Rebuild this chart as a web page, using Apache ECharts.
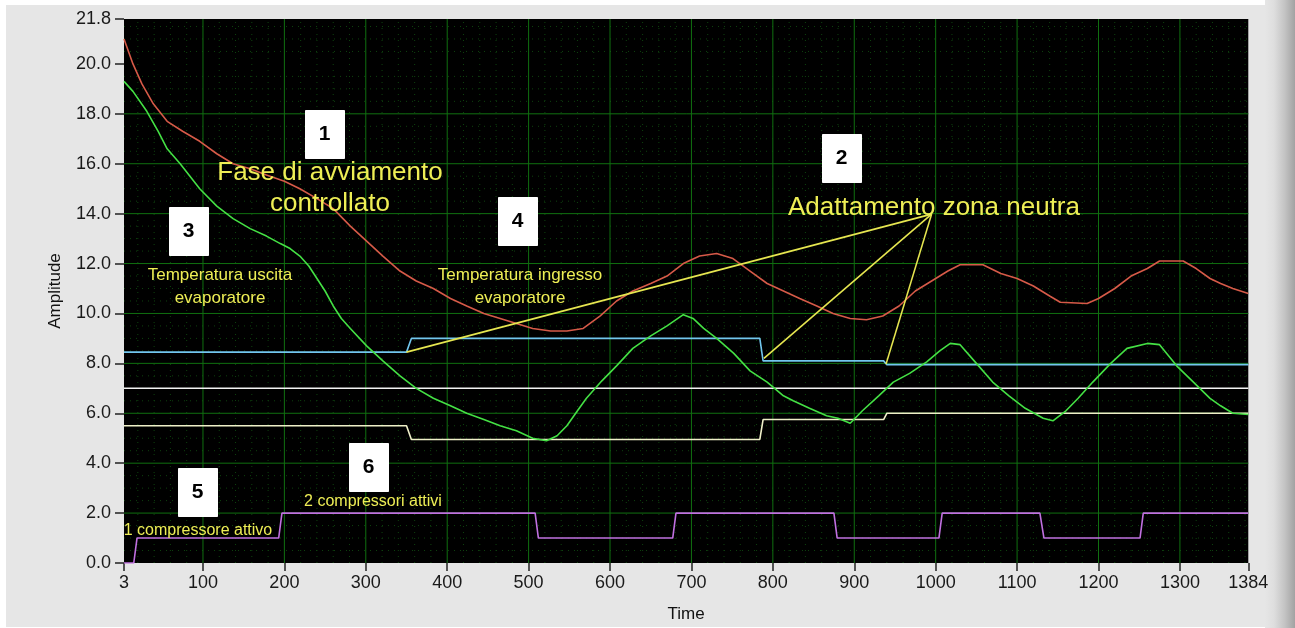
<!DOCTYPE html>
<html>
<head>
<meta charset="utf-8">
<script src="https://cdn.jsdelivr.net/npm/echarts@6/dist/echarts.min.js"></script>
<style>
  html, body { margin: 0; padding: 0; background: #ffffff; }
  #wrap { position: relative; width: 1295px; height: 628px; overflow: hidden; background: #ffffff; }
  #panel { position: absolute; left: 6px; top: 5px; width: 1262px; height: 622px; background: #e6e6e6; }
  #strip { position: absolute; left: 1265px; top: 0; width: 30px; height: 628px;
           background: linear-gradient(to right, #e6e6e6, #dedede 30%, #c4c4c4 65%, #a2a2a2); }
  #chart { position: absolute; left: 0; top: 0; width: 1295px; height: 628px; }
</style>
</head>
<body>
<div id="wrap">
  <div id="panel"></div>
  <div id="strip"></div>
  <div id="chart"></div>
</div>
<script>
// ---- tick labels ----
const timeTicks = [3, 100, 200, 300, 400, 500, 600, 700, 800, 900, 1000, 1100, 1200, 1300, 1384];
const ampTicks = [0, 2, 4, 6, 8, 10, 12, 14, 16, 18, 20, 21.8];

// ---- Temperatura ingresso evaporatore (red) ----
const inletTime = [3, 14, 25, 39, 56, 75, 96, 117, 137, 158, 178, 200, 219, 240, 260, 281, 301, 321, 342, 362,
  383, 404, 424, 445, 465, 485, 505, 527, 547, 567, 588, 608, 628, 650, 670, 690, 710, 731, 751, 772,
  793, 813, 833, 854, 874, 895, 915, 935, 955, 975, 995, 1015, 1030, 1058, 1080, 1100, 1120, 1140, 1153, 1186,
  1200, 1220, 1240, 1260, 1275, 1304, 1320, 1337, 1350, 1365, 1384];
const inletTemp = [21.0, 20.0, 19.2, 18.4, 17.7, 17.3, 16.9, 16.4, 16.0, 15.8, 15.55, 15.3, 15.0, 14.6, 14.2, 13.5, 12.9, 12.3, 11.7, 11.3,
  11.0, 10.6, 10.3, 10.0, 9.8, 9.6, 9.4, 9.3, 9.3, 9.4, 9.9, 10.5, 10.9, 11.2, 11.5, 12.0, 12.3, 12.4, 12.2, 11.7,
  11.2, 10.9, 10.6, 10.3, 10.0, 9.8, 9.75, 9.9, 10.3, 10.9, 11.3, 11.7, 11.95, 11.95, 11.6, 11.4, 11.1, 10.7, 10.45, 10.4,
  10.6, 11.0, 11.5, 11.8, 12.1, 12.1, 11.8, 11.4, 11.2, 11.0, 10.8];

// ---- Temperatura uscita evaporatore (green) ----
const outletTime = [3, 14, 31, 45, 56, 72, 96, 117, 137, 158, 178, 195, 207, 219, 230, 240, 250, 260, 270, 281,
  301, 321, 342, 362, 383, 404, 424, 445, 465, 485, 505, 522, 535, 547, 560, 571, 590, 608, 628, 650,
  670, 690, 702, 715, 731, 752, 772, 793, 813, 825, 845, 866, 880, 895, 910, 930, 948, 968, 989, 1005,
  1018, 1030, 1050, 1070, 1090, 1110, 1132, 1144, 1160, 1175, 1193, 1215, 1235, 1260, 1275, 1296, 1315, 1337, 1350, 1365, 1384];
const outletTemp = [19.3, 18.9, 18.1, 17.3, 16.6, 16.0, 15.0, 14.3, 13.8, 13.4, 13.1, 12.8, 12.6, 12.3, 11.9, 11.4, 10.9, 10.3, 9.8, 9.4,
  8.7, 8.1, 7.5, 7.0, 6.6, 6.3, 6.0, 5.75, 5.5, 5.3, 5.0, 4.9, 5.1, 5.5, 6.1, 6.6, 7.3, 7.9, 8.6, 9.1,
  9.5, 9.95, 9.8, 9.4, 9.0, 8.4, 7.7, 7.25, 6.7, 6.5, 6.2, 5.9, 5.8, 5.6, 6.1, 6.7, 7.25, 7.6, 8.06, 8.5,
  8.8, 8.75, 8.0, 7.25, 6.7, 6.2, 5.8, 5.7, 6.1, 6.6, 7.25, 8.0, 8.6, 8.8, 8.75, 7.9, 7.3, 6.6, 6.3, 6.0, 5.95];

// ---- neutral zone limits (cyan upper, cream lower) ----
const zoneTime = [3, 350, 356, 784, 788, 936, 940, 1384];
const zoneUpper = [8.45, 8.45, 9.0, 9.0, 8.1, 8.1, 7.95, 7.95];
const zoneLower = [5.5, 5.5, 4.95, 4.95, 5.75, 5.75, 6.0, 6.0];

// ---- set point (white) ----
const setTime = [3, 1384];
const setValue = [7.0, 7.0];

// ---- active compressors (purple) ----
const compTime = [3, 15, 19, 193, 197, 508, 512, 677, 681, 875, 879, 1004, 1008, 1128, 1133, 1251, 1255, 1384];
const compCount = [0, 0, 1, 1, 2, 2, 1, 1, 2, 2, 1, 1, 2, 2, 1, 1, 2, 2];

// ---- "Adattamento zona neutra" pointer lines ----
const pointerTip = [995, 13.98];
const pointerEnds = [[350, 8.45], [789, 8.2], [939, 7.97]];

const zip = (xs, ys) => xs.map((x, i) => [x, ys[i]]);

// grid helper values
const majorX = timeTicks.slice(1, -1);
const majorY = ampTicks.slice(1, -2);
const minorX = [];
for (let v = 20; v < 1384; v += 20) if (v % 100 !== 0) minorX.push(v);
const minorY = [];
for (let v = 0.5; v < 21.8; v += 0.5) if (Math.abs(v / 2 - Math.round(v / 2)) > 1e-6) minorY.push(+v.toFixed(1));

const FONT = 'Liberation Sans, Arial, sans-serif';
const YEL = '#eeee55';
const Y_MIN = 0, Y_MAX = 21.8, X_MIN = 3, X_MAX = 1384;

const chart = echarts.init(document.getElementById('chart'), null, { renderer: 'canvas' });

function lineSeries(name, data, color, z) {
  return {
    name, type: 'line', data, showSymbol: false, symbol: 'none', z: z || 3,
    lineStyle: { color, width: 1.6 }, itemStyle: { color }, animation: false, silent: true
  };
}

function gridSeries(values, vertical, stroke, dash, z) {
  return {
    type: 'custom', z, silent: true, animation: false,
    data: values.map(v => vertical ? [v, Y_MIN] : [X_MIN, v]),
    renderItem: (params, api) => {
      let p0, p1;
      if (vertical) {
        const v = api.value(0);
        p0 = api.coord([v, Y_MIN]); p1 = api.coord([v, Y_MAX]);
      } else {
        const v = api.value(1);
        p0 = api.coord([X_MIN, v]); p1 = api.coord([X_MAX, v]);
      }
      const style = { stroke, lineWidth: 1 };
      if (dash) style.lineDash = dash;
      return { type: 'line', shape: { x1: p0[0], y1: p0[1], x2: p1[0], y2: p1[1] }, style };
    }
  };
}

const boxes = [
  { t: '1', x: 305, y: 110 }, { t: '2', x: 822, y: 134 }, { t: '3', x: 169, y: 207 },
  { t: '4', x: 498, y: 197 }, { t: '5', x: 178, y: 468 }, { t: '6', x: 349, y: 443 }
];
const texts = [
  { t: 'Fase di avviamento', x: 330, y: 173, s: 26 },
  { t: 'controllato', x: 330, y: 204, s: 26 },
  { t: 'Adattamento zona neutra', x: 934, y: 208, s: 26 },
  { t: 'Temperatura uscita', x: 220, y: 275, s: 17 },
  { t: 'evaporatore', x: 220, y: 298, s: 17 },
  { t: 'Temperatura ingresso', x: 520, y: 275, s: 17 },
  { t: 'evaporatore', x: 520, y: 298, s: 17 },
  { t: '1 compressore attivo', x: 198, y: 531, s: 16 },
  { t: '2 compressori attivi', x: 373, y: 502, s: 16 }
];

const graphic = [];
boxes.forEach(b => {
  graphic.push({ type: 'rect', left: b.x, top: b.y, z: 100, shape: { width: 39, height: 48 },
    style: { fill: '#ffffff', stroke: '#ffffff' } });
  graphic.push({ type: 'text', x: b.x + 19.5, y: b.y + 24, z: 101,
    style: { text: b.t, fill: '#000', font: 'bold 21px ' + FONT, align: 'center', verticalAlign: 'middle' } });
});
texts.forEach(t => {
  graphic.push({ type: 'text', x: t.x, y: t.y, z: 100,
    style: { text: t.t, fill: YEL, font: t.s + 'px ' + FONT, align: 'center', verticalAlign: 'middle' } });
});

const option = {
  animation: false,
  backgroundColor: 'transparent',
  grid: { left: 124, top: 19, right: 46.7, bottom: 64.5, show: true, backgroundColor: '#000000', borderWidth: 0 },
  xAxis: {
    type: 'value', min: X_MIN, max: X_MAX,
    name: 'Time', nameLocation: 'middle', nameGap: 43,
    nameTextStyle: { color: '#111', fontSize: 17, fontFamily: FONT },
    axisLine: { show: false },
    axisTick: { show: true, length: 8, customValues: timeTicks, lineStyle: { color: '#222', width: 1.5 } },
    axisLabel: { customValues: timeTicks, color: '#1a1a1a', fontSize: 18, fontFamily: FONT, margin: 11,
      formatter: v => String(v) },
    splitLine: { show: false },
    minorSplitLine: { show: false }
  },
  yAxis: {
    type: 'value', min: Y_MIN, max: Y_MAX,
    name: 'Amplitude', nameLocation: 'middle', nameGap: 60, nameRotate: 90,
    nameTextStyle: { color: '#111', fontSize: 17, fontFamily: FONT },
    axisLine: { show: false },
    axisTick: { show: true, length: 9, customValues: ampTicks, lineStyle: { color: '#222', width: 1.5 } },
    axisLabel: { customValues: ampTicks, color: '#1a1a1a', fontSize: 18, fontFamily: FONT, margin: 13,
      formatter: v => v.toFixed(1) },
    splitLine: { show: false },
    minorSplitLine: { show: false }
  },
  graphic,
  series: [
    gridSeries(minorX, true, '#0e420e', [1, 5], 1),
    gridSeries(minorY, false, '#0e420e', [1, 5], 1),
    gridSeries(majorX, true, '#107010', null, 2),
    gridSeries(majorY, false, '#107010', null, 2),
    lineSeries('Temperatura ingresso evaporatore', zip(inletTime, inletTemp), '#d65a48'),
    lineSeries('Limite superiore zona neutra', zip(zoneTime, zoneUpper), '#72c6ee'),
    lineSeries('Set point', zip(setTime, setValue), '#f2f2f2'),
    lineSeries('Limite inferiore zona neutra', zip(zoneTime, zoneLower), '#efefc8'),
    lineSeries('Temperatura uscita evaporatore', zip(outletTime, outletTemp), '#44e044', 4),
    lineSeries('Compressori attivi', zip(compTime, compCount), '#c070e0'),
    {
      name: 'pointer', type: 'line', data: [], z: 5, silent: true, animation: false,
      markLine: { silent: true, symbol: 'none', animation: false, label: { show: false },
        lineStyle: { color: '#e6e650', width: 1.6, type: 'solid' },
        data: pointerEnds.map(e => [{ coord: pointerTip }, { coord: e }]) }
    }
  ]
};
chart.setOption(option);
</script>
</body>
</html>
